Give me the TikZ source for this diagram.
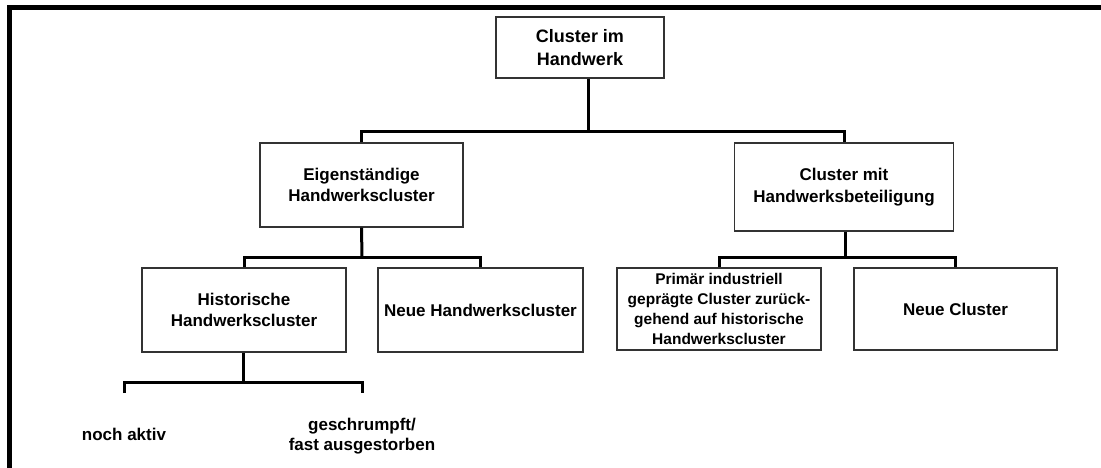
\documentclass[tikz,border=0pt]{standalone}
\usepackage{fontspec}
\setmainfont{Liberation Sans}
\begin{document}
\begin{tikzpicture}[x=1pt,y=-1pt,
  box/.style={draw=black!80, line width=1.2pt, align=center, inner sep=0pt,
    font=\bfseries\fontsize{17}{21.7}\selectfont},
  lbl/.style={align=center, inner sep=0pt, font=\bfseries\fontsize{17}{20}\selectfont},
  conn/.style={line width=3pt, draw=black},
  frame/.style={line width=5pt, draw=black}]
\useasboundingbox (0,0) rectangle (1101,468);
% frame
\draw[frame] (9.5,468) -- (9.5,7.5) -- (1101,7.5);
% nodes
\node[box, minimum width=168, minimum height=61,
      font=\bfseries\fontsize{18}{23}\selectfont] (top) at (580,47.5) {Cluster im\\Handwerk};
\node[box, minimum width=203, minimum height=84] (eig) at (361.5,185) {Eigenständige\\Handwerkscluster};
\node[box, minimum width=219, minimum height=88] (mit) at (844,187) {Cluster mit\\Handwerksbeteiligung};
\node[box, minimum width=204, minimum height=84] (hist) at (244,310) {Historische\\Handwerkscluster};
\node[box, minimum width=205, minimum height=84] (neuh) at (480.5,310) {Neue Handwerkscluster};
\node[box, minimum width=204, minimum height=82,
      font=\bfseries\fontsize{15.5}{19.7}\selectfont] (prim) at (719,309)
      {Primär industriell\\geprägte Cluster zurück-\\gehend auf historische\\Handwerkscluster};
\node[box, minimum width=203, minimum height=82] (neuc) at (955.5,309) {Neue Cluster};
\node[lbl] (noch) at (124,434) {noch aktiv};
\node[lbl] (gesch) at (362,436) {geschrumpft/\\fast ausgestorben};
% junction coordinates
\coordinate (b1) at (588,132);
\coordinate (b2) at (362,257);
\coordinate (b3) at (845,257);
\coordinate (b4) at (243,382);
\coordinate (l4) at (124,393);
\coordinate (r4) at (362,393);
% connectors
\draw[conn] ([xshift=8]top.south) -- (b1);
\draw[conn] (eig.north) |- (b1) -| (mit.north);
\draw[conn] (eig.south) -- (b2);
\draw[conn] (hist.north) |- (b2) -| (neuh.north);
\draw[conn] ([xshift=1]mit.south) -- (b3);
\draw[conn] (prim.north) |- (b3) -| (neuc.north);
\draw[conn] ([xshift=-1]hist.south) -- (b4);
\draw[conn] (l4) |- (b4) -| (r4);
\end{tikzpicture}
\end{document}
